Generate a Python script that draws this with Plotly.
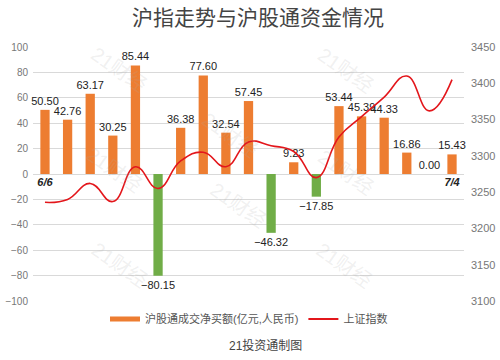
import plotly.graph_objects as go

# ---- data ----
net_buy = [50.50, 42.76, 63.17, 30.25, 85.44, -80.15, 36.38, 77.60, 32.54, 57.45,
           -46.32, 9.23, -17.85, 53.44, 45.39, 44.33, 16.86, 0.00, 15.43]
sse_index = [3236, 3240, 3262, 3237, 3285, 3255, 3293, 3305, 3285, 3319,
             3314, 3306, 3270, 3326, 3354, 3381, 3410, 3362, 3405]
tick_pos = [0, 18]
tick_labels = ["6/6", "7/4"]
bar_name = "沪股通成交净买额(亿元,人民币)"
line_name = "上证指数"
title_text = "沪指走势与沪股通资金情况"
source_text = "21投资通制图"

x = list(range(len(net_buy)))
ORANGE = "#ED7D31"
GREEN = "#70AD47"
RED = "#E3161B"
bar_colors = [ORANGE if v >= 0 else GREEN for v in net_buy]
bar_text = [("%.2f" % v).replace("-", "\u2212") for v in net_buy]

W, H = 500, 360
L, R, T, B = 33, 36, 47, 59
pw, ph = W - L - R, H - T - B

fig = go.Figure()
fig.add_trace(go.Bar(
    x=x, y=net_buy, marker=dict(color=bar_colors, line=dict(width=0)),
    width=0.41, text=bar_text, textposition="outside",
    textfont=dict(size=11, color="#222"), constraintext="none",
    cliponaxis=False, showlegend=False, yaxis="y"))
fig.add_trace(go.Scatter(
    x=x, y=sse_index, mode="lines", line=dict(color=RED, width=1.6, shape="spline", smoothing=1.3),
    showlegend=False, yaxis="y2"))
# legend entries
fig.add_trace(go.Scatter(x=[None], y=[None], mode="lines", name=bar_name,
                         line=dict(color=ORANGE, width=5)))
fig.add_trace(go.Scatter(x=[None], y=[None], mode="lines", name=line_name,
                         line=dict(color=RED, width=2)))

def px2paper(px, py):
    return (px - L) / pw, (H - B - py) / ph

# watermarks
wm = [(85, 40), (380, 40), (230, 105), (80, 170), (380, 172), (238, 235), (85, 295), (378, 295)]
annotations = []
for wx, wy in wm:
    ax, ay = px2paper(wx, wy)
    annotations.append(dict(text="21财经", x=ax, y=ay, xref="paper", yref="paper",
                            showarrow=False, textangle=35,
                            font=dict(size=20, color="rgba(170,170,170,0.18)",
                                      family="Liberation Sans, Noto Sans CJK SC")))
sx, sy = px2paper(265, 345)
annotations.append(dict(text=source_text, x=sx, y=sy, xref="paper", yref="paper",
                        xanchor="center", yanchor="middle",
                        showarrow=False, font=dict(size=12, color="#444")))

lx, ly = px2paper(105, 319)
fig.update_layout(
    width=W, height=H,
    margin=dict(l=L, r=R, t=T, b=B, autoexpand=False),
    paper_bgcolor="white", plot_bgcolor="white",
    font=dict(family="Liberation Sans, Arial, Noto Sans CJK SC", color="#666"),
    title=dict(text=title_text, x=258 / W, y=1 - 18 / H, xanchor="center", yanchor="middle",
               font=dict(size=21, color="#444", family="Noto Sans CJK SC, Liberation Sans")),
    xaxis=dict(range=[-0.53, 18.53], tickvals=tick_pos,
               ticktext=["<b><i>%s</i></b>" % t for t in tick_labels],
               tickfont=dict(size=11, color="#222"), ticks="", showgrid=False,
               zeroline=False, showline=False, anchor="free", position=0.5),
    yaxis=dict(range=[-100, 100], dtick=20, showgrid=True, gridcolor="#d9d9d9", gridwidth=1,
               zeroline=False, tickfont=dict(size=10, color="#777"), ticks="",
               ticklabelstandoff=4),
    yaxis2=dict(range=[3100, 3450], dtick=50, overlaying="y", side="right", showgrid=False,
                zeroline=False, tickfont=dict(size=11, color="#777"), ticks="",
                ticklabelstandoff=6),
    legend=dict(orientation="h", x=lx, y=ly, xanchor="left",
                yanchor="middle", font=dict(size=11, color="#555"), itemwidth=30,
                bgcolor="rgba(0,0,0,0)"),
    annotations=annotations,
)
fig.write_html("out.html", config={"displayModeBar": False},
               post_script="document.body.style.margin='0';document.body.style.overflow='hidden';")
